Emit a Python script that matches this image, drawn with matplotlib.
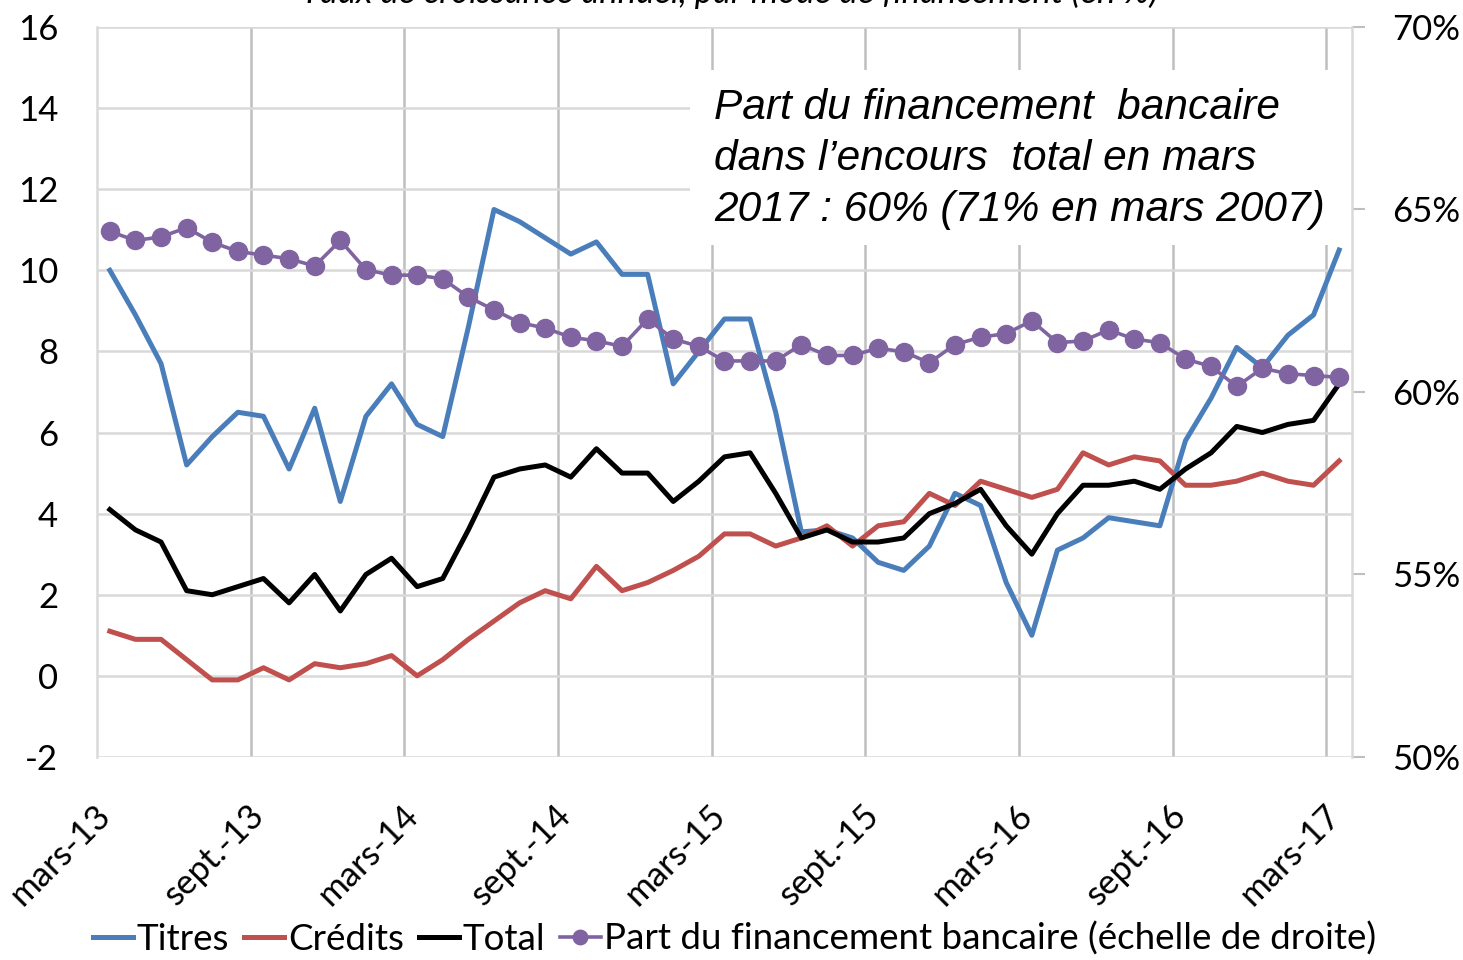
import numpy as np
import matplotlib
matplotlib.use("Agg")
import matplotlib.pyplot as plt
import matplotlib.transforms as mtransforms
from matplotlib.patches import Rectangle

plt.rcParams['font.family'] = ['Lato', 'DejaVu Sans']
plt.rcParams['axes.unicode_minus'] = False

# monthly data, march 2013 -> march 2017 (49 points)
titres = [10.0, 8.9, 7.7, 5.2, 5.9, 6.5, 6.4, 5.1, 6.6, 4.3,
          6.4, 7.2, 6.2, 5.9, 8.6, 11.5, 11.2, 10.8, 10.4, 10.7,
          9.9, 9.9, 7.2, 8.0, 8.8, 8.8, 6.5, 3.55, 3.6, 3.4,
          2.8, 2.6, 3.2, 4.5, 4.2, 2.3, 1.0, 3.1, 3.4, 3.9,
          3.8, 3.7, 5.8, 6.85, 8.1, 7.6, 8.4, 8.9, 10.5]
credits = [1.1, 0.9, 0.9, 0.4, -0.1, -0.1, 0.2, -0.1, 0.3, 0.2,
           0.3, 0.5, 0.0, 0.4, 0.9, 1.35, 1.8, 2.1, 1.9, 2.7,
           2.1, 2.3, 2.6, 2.95, 3.5, 3.5, 3.2, 3.4, 3.7, 3.2,
           3.7, 3.8, 4.5, 4.2, 4.8, 4.6, 4.4, 4.6, 5.5, 5.2,
           5.4, 5.3, 4.7, 4.7, 4.8, 5.0, 4.8, 4.7, 5.3]
total = [4.1, 3.6, 3.3, 2.1, 2.0, 2.2, 2.4, 1.8, 2.5, 1.6,
         2.5, 2.9, 2.2, 2.4, 3.6, 4.9, 5.1, 5.2, 4.9, 5.6,
         5.0, 5.0, 4.3, 4.8, 5.4, 5.5, 4.5, 3.4, 3.6, 3.3,
         3.3, 3.4, 4.0, 4.25, 4.6, 3.7, 3.0, 4.0, 4.7, 4.7,
         4.8, 4.6, 5.1, 5.5, 6.15, 6.0, 6.2, 6.3, 7.2]
part_bancaire = [64.4, 64.15, 64.25, 64.5, 64.1, 63.85, 63.75, 63.65, 63.45, 64.15,
                 63.35, 63.2, 63.2, 63.1, 62.6, 62.25, 61.9, 61.75, 61.5, 61.4,
                 61.25, 62.0, 61.45, 61.25, 60.85, 60.85, 60.85, 61.3, 61.0, 61.0,
                 61.2, 61.1, 60.8, 61.3, 61.5, 61.6, 61.95, 61.35, 61.4, 61.7,
                 61.45, 61.35, 60.9, 60.7, 60.15, 60.65, 60.5, 60.45, 60.4]
tick_labels = ["mars-13", "sept.-13", "mars-14", "sept.-14", "mars-15",
               "sept.-15", "mars-16", "sept.-16", "mars-17"]

x = np.arange(len(titres))

fig = plt.figure(figsize=(14.63, 9.6), dpi=100)
ax = fig.add_axes([0.0663, 0.2115, 0.8578, 0.7604])

l1, = ax.plot(x, titres, color='#4a7ebb', lw=3.6, label='Titres', zorder=3)
l2, = ax.plot(x, credits, color='#c0504d', lw=3.6, label='Crédits', zorder=3)
l3, = ax.plot(x, total, color='black', lw=3.6, label='Total', zorder=3)

ax.set_xlim(-0.5, len(x) - 0.5)
ax.set_ylim(-2, 16)
ax.set_yticks(np.arange(-2, 17, 2))
ax.set_xticks(np.arange(0, len(x), 6))
ax.set_xticklabels(tick_labels, rotation=45, ha='right', va='top')
ax.set_xticks(np.arange(5.5, len(x), 6), minor=True)
ax.grid(axis='y', color='#d9d9d9', lw=1.8, zorder=1)
ax.grid(axis='x', which='minor', color='#bfbfbf', lw=1.8, zorder=1)
ax.tick_params(axis='y', length=0, pad=28, labelsize=25)
ax.tick_params(axis='x', which='both', length=0, pad=30, labelsize=25)
for s in ['top', 'bottom', 'right']:
    ax.spines[s].set_visible(False)
ax.spines['left'].set_color('#d9d9d9')
ax.spines['left'].set_linewidth(1.8)

shift = mtransforms.ScaledTranslation(7 / 100, 0, fig.dpi_scale_trans)
for lab in ax.get_xticklabels():
    lab.set_transform(lab.get_transform() + shift)

ax2 = ax.twinx()
l4, = ax2.plot(x, part_bancaire, color='#8064a2', lw=2.6, marker='o', ms=13,
               label='Part du financement bancaire (échelle de droite)')
ax2.set_ylim(50, 70)
ax2.set_yticks(np.arange(50, 71, 5))
ax2.set_yticklabels([f"{v}%" for v in range(50, 71, 5)])
ax2.tick_params(axis='y', length=9, width=1.5, color='#bfbfbf', pad=20, labelsize=25)
for s in ['top', 'bottom', 'left']:
    ax2.spines[s].set_visible(False)
ax2.spines['right'].set_color('#d9d9d9')
ax2.spines['right'].set_linewidth(1.8)

# annotation box
ax.add_patch(Rectangle((0.4725, 0.7014), 0.5323, 0.2397, transform=ax.transAxes,
                       facecolor='white', edgecolor='none', zorder=2, clip_on=False))
ax.text(0.4916, 0.8195,
        "Part du financement  bancaire\ndans l’encours  total en mars\n2017 : 60% (71% en mars 2007)",
        transform=ax.transAxes, ha='left', va='center', fontsize=30.5, style='italic',
        family=['Liberation Sans', 'DejaVu Sans'], linespacing=1.36, zorder=4)

fig.text(0.499, 1 - 3 / 960, "Taux de croissance annuel, par mode de financement (en %)",
         ha='center', va='baseline', fontsize=25, style='italic')

fig.legend(handles=[l1, l2, l3, l4], loc='center', bbox_to_anchor=(0.502, 0.022),
           ncol=4, frameon=False, fontsize=26.5, handlelength=1.1, handletextpad=0.1,
           columnspacing=0.4, borderpad=0, numpoints=1, markerscale=0.8)

fig.savefig('out.png', dpi=100)
